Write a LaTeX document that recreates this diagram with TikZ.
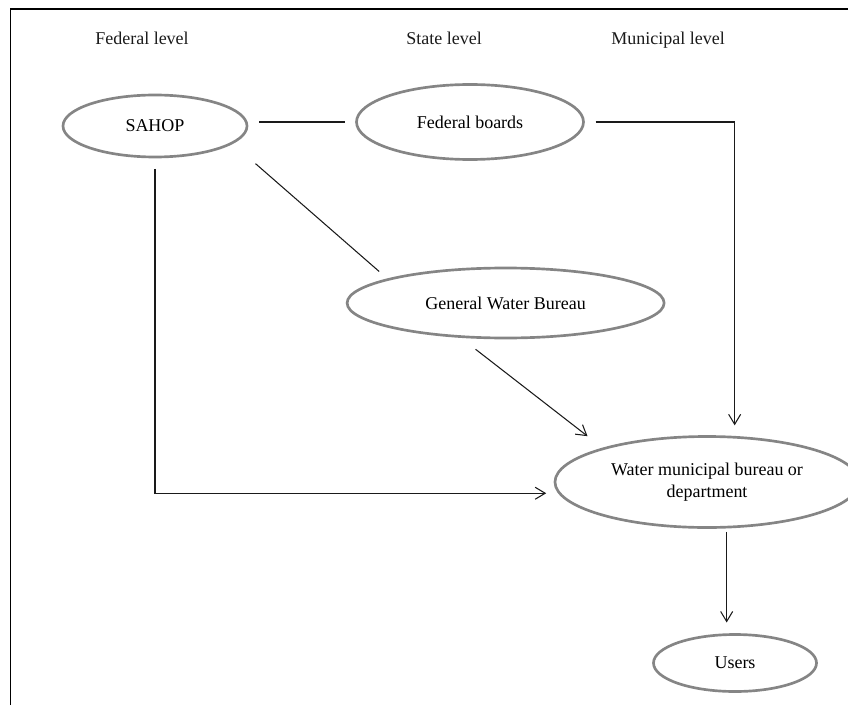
\documentclass[tikz,border=0pt]{standalone}
\usepackage{fontspec}
\setmainfont{Liberation Serif}
\usetikzlibrary{arrows.meta,shapes.geometric}
\definecolor{rimgray}{HTML}{858585}
\definecolor{inkblack}{HTML}{1A1A1A}

\tikzset{
  unit/.style={ellipse, draw=rimgray, line width=1.9pt, inner sep=0pt, outer sep=0.3cm, align=center},
  link/.style={inkblack, line width=0.75pt},
  flow/.style={link, -{Straight Barb[length=2.5mm,width=3mm]}},
  tier/.style={inkblack, text height=1.6ex, text depth=0.4ex}
}

\begin{document}
\begin{tikzpicture}[font=\fontsize{12.8pt}{15.6pt}\selectfont]
\useasboundingbox (0,0) rectangle (21.2,17.625);

% === Frame (left and top edges only) ===
\def\frX{0.2625}
\def\frY{17.39}
\draw[black,line width=1.4pt] (\frX,0) -- (\frX,\frY) -- (21.2,\frY);

% === Level headings ===
\def\lvlY{16.61}
\node[tier] (fedlvl) at (3.55,\lvlY) {Federal level};
\node[tier] (statelvl) at (11.10,\lvlY) {State level};
\node[tier] (munilvl) at (16.70,\lvlY) {Municipal level};

% === Bodies ===
\node[unit,minimum width=4.6cm,minimum height=1.55cm] (sahop) at (3.875,14.475) {SAHOP};
\node[unit,minimum width=5.675cm,minimum height=1.875cm] (fb) at (11.75,14.575) {Federal boards};
\node[unit,minimum width=7.925cm,minimum height=1.75cm] (gwb) at (12.64,10.05) {General Water Bureau};
\node[unit,minimum width=7.6cm,minimum height=2.275cm] (wmb) at (17.675,5.575) {Water municipal bureau or\\department};
\node[unit,minimum width=4.075cm,minimum height=1.425cm] (users) at (18.375,1.05) {Users};

% === Connectors ===
\draw[link] (sahop.east |- fb.west) -- (fb.west);
\draw[link,shorten <=0.5cm] (sahop.-16) -- (gwb.166);
\draw[flow] (sahop.south) |- (wmb.184);
\draw[flow] (fb.east) -| (wmb.64.5);
\draw[flow,shorten >=0.18cm] (gwb.237) -- (wmb.160.6);
\draw[flow,shorten <=-0.18cm] (wmb.-71.6) -- (wmb.-71.6 |- users.north);

\end{tikzpicture}
\end{document}
